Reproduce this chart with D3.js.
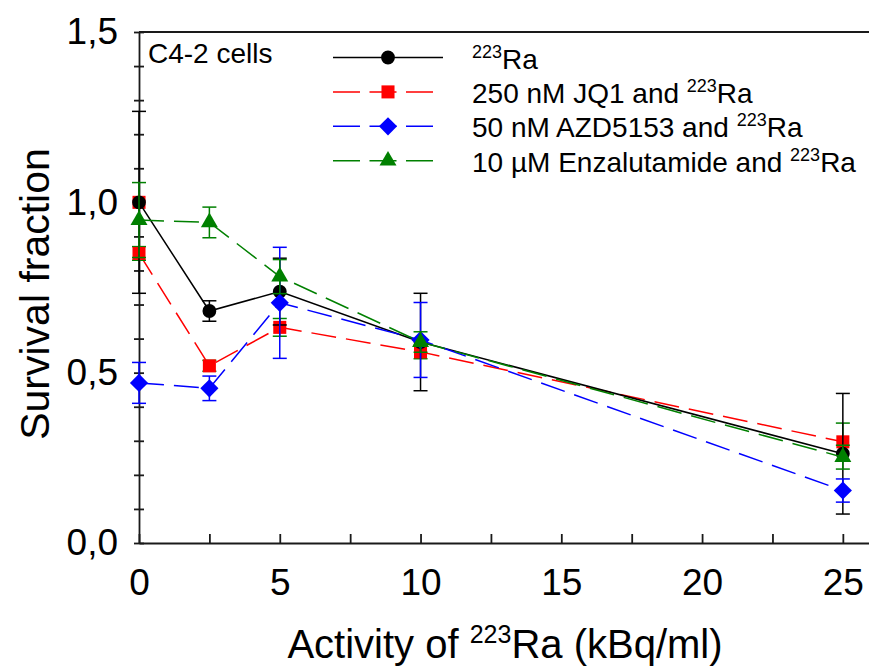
<!DOCTYPE html>
<html>
<head>
<meta charset="utf-8">
<script src="https://cdn.jsdelivr.net/npm/d3@7"></script>
<style>
  body { margin: 0; background: #fff; }
  svg { display: block; font-family: Arial, "Liberation Sans", sans-serif; }
  .axis path, .axis line { stroke: #1a1a1a; stroke-width: 1.8; }
  .axis text { font-size: 37px; fill: #000; }
</style>
</head>
<body>
<script>
var width = 869, height = 668;

// activity of 223Ra (kBq/ml)
var activity = [0, 2.5, 5, 10, 25];

// survival fraction, mean and error per series
var raOnly     = [1.0, 0.681, 0.738, 0.590, 0.262];
var raOnlyErr  = [0.267, 0.030, 0.098, 0.143, 0.177];
var jq1        = [0.85, 0.52, 0.633, 0.561, 0.297];
var jq1Err     = [0.02, 0.016, 0.026, 0.02, 0.055];
var azd        = [0.47, 0.454, 0.705, 0.596, 0.154];
var azdErr     = [0.06, 0.036, 0.163, 0.11, 0.034];
var enza       = [0.948, 0.941, 0.782, 0.59, 0.252];
var enzaErr    = [0.11, 0.045, 0.05, 0.03, 0.035];
var jq1Control = [1.0];   // red square peeking out behind the black dot at 0

var legendLabels = ["", "250 nM JQ1 and ", "50 nM AZD5153 and ", "10 \u00B5M Enzalutamide and "];
var yTicks = [0, 0.5, 1.0, 1.5];
var xTicks = [0, 5, 10, 15, 20, 25];

var series = [
  { values: jq1,    err: jq1Err,    color: "#ff0000", errColor: "#008000", dash: "25,10", symbol: d3.symbolSquare,   size: 170, rotate: 0 },
  { values: raOnly, err: raOnlyErr, color: "#000000", errColor: "#000000", dash: null,    symbol: d3.symbolCircle,   size: 150, rotate: 0 },
  { values: azd,    err: azdErr,    color: "#0000ff", errColor: "#0000ff", dash: "25,10", symbol: d3.symbolSquare,   size: 165, rotate: 45 },
  { values: enza,   err: enzaErr,   color: "#008000", errColor: "#008000", dash: "25,10", symbol: d3.symbolTriangle, size: 125, rotate: 0 }
];
// legend order differs from drawing order
var legendSeries = [series[1], series[0], series[2], series[3]];

var x = d3.scaleLinear().domain([0, 26]).range([139, 871]);
var y = d3.scaleLinear().domain([0, 1.5]).range([543, 32]);

var svg = d3.select("body").append("svg")
    .attr("width", width)
    .attr("height", height);

// frame: top line (right spine falls outside the picture)
svg.append("line")
    .attr("x1", x(0)).attr("x2", x(26))
    .attr("y1", y(1.5)).attr("y2", y(1.5))
    .attr("stroke", "#1a1a1a").attr("stroke-width", 1.8);

// y axis: small ticks crossing the spine every 0.1
var yMinor = d3.range(0, 16).map(function(i) { return i / 10; });
svg.append("g").attr("class", "axis")
    .attr("transform", "translate(" + x(0) + ",0)")
    .call(d3.axisLeft(y).tickValues(yMinor).tickSize(5).tickSizeOuter(0).tickFormat(""));
svg.append("g").attr("class", "axis")
    .attr("transform", "translate(" + x(0) + ",0)")
    .call(d3.axisLeft(y).tickValues(yMinor).tickSize(-5).tickSizeOuter(0).tickFormat(""))
    .select(".domain").remove();
svg.append("g").attr("class", "axis")
    .attr("transform", "translate(" + x(0) + ",0)")
    .call(d3.axisLeft(y).tickValues(yTicks).tickSize(0).tickPadding(21)
        .tickFormat(function(d) { return d3.format(".1f")(d).replace(".", ","); }))
    .select(".domain").remove();

// x axis: inward ticks every 2.5
svg.append("g").attr("class", "axis")
    .attr("transform", "translate(0," + y(0) + ")")
    .call(d3.axisBottom(x).tickValues(d3.range(0, 25.1, 2.5)).tickSize(-9).tickSizeOuter(0).tickFormat(""));
svg.append("g").attr("class", "axis")
    .attr("transform", "translate(0," + y(0) + ")")
    .call(d3.axisBottom(x).tickValues(xTicks).tickSize(0).tickPadding(26).tickFormat(d3.format("d")))
    .select(".domain").remove();

// axis titles
var xTitle = svg.append("text")
    .attr("x", 505).attr("y", 658)
    .attr("text-anchor", "middle")
    .style("font-size", "40px");
xTitle.append("tspan").text("Activity of ");
xTitle.append("tspan").attr("dy", -15).style("font-size", "25px").text("223");
xTitle.append("tspan").attr("dy", 15).text("Ra (kBq/ml)");

svg.append("text")
    .attr("transform", "translate(49,294) rotate(-90)")
    .attr("text-anchor", "middle")
    .style("font-size", "41px")
    .text("Survival fraction");

svg.append("text")
    .attr("x", 148).attr("y", 63)
    .style("font-size", "28px")
    .text("C4-2 cells");

// data
var line = d3.line()
    .x(function(d, i) { return x(activity[i]); })
    .y(function(d) { return y(d); });

function symbolPath(s) {
  return d3.symbol().type(s.symbol).size(s.size)();
}

// hidden control point under the black dot
svg.append("path")
    .attr("d", symbolPath(series[0]))
    .attr("transform", "translate(" + x(0) + "," + y(jq1Control[0]) + ")")
    .attr("fill", series[0].color);

series.forEach(function(s) {
  var g = svg.append("g");

  g.append("path")
      .attr("d", line(s.values))
      .attr("fill", "none")
      .attr("stroke", s.color)
      .attr("stroke-width", 1.5)
      .attr("stroke-dasharray", s.dash);

  var bars = g.selectAll(".err").data(s.values).enter().append("g");
  bars.append("line")
      .attr("x1", function(d, i) { return x(activity[i]); })
      .attr("x2", function(d, i) { return x(activity[i]); })
      .attr("y1", function(d, i) { return y(d + s.err[i]); })
      .attr("y2", function(d, i) { return y(d - s.err[i]); });
  [1, -1].forEach(function(sign) {
    bars.append("line")
        .attr("x1", function(d, i) { return x(activity[i]) - 7; })
        .attr("x2", function(d, i) { return x(activity[i]) + 7; })
        .attr("y1", function(d, i) { return y(d + sign * s.err[i]); })
        .attr("y2", function(d, i) { return y(d + sign * s.err[i]); });
  });
  bars.selectAll("line")
      .attr("stroke", s.errColor)
      .attr("stroke-width", 1.5);

  g.selectAll(".mark").data(s.values).enter().append("path")
      .attr("d", symbolPath(s))
      .attr("transform", function(d, i) {
        return "translate(" + x(activity[i]) + "," + y(d) + ") rotate(" + s.rotate + ")";
      })
      .attr("fill", s.color);
});

// legend
var legend = svg.append("g");
legendSeries.forEach(function(s, i) {
  var ly = 57.5 + i * 34.4;
  var row = legend.append("g");
  row.append("line")
      .attr("x1", 333).attr("x2", s.dash ? 434 : 443)
      .attr("y1", ly).attr("y2", ly)
      .attr("stroke", s.color)
      .attr("stroke-width", 1.5)
      .attr("stroke-dasharray", s.dash ? "27,9.5" : null);
  row.append("path")
      .attr("d", symbolPath(s))
      .attr("transform", "translate(388," + ly + ") rotate(" + s.rotate + ")")
      .attr("fill", s.color);
  var t = row.append("text")
      .attr("x", 472).attr("y", ly + 11)
      .style("font-size", "28px");
  t.append("tspan").text(legendLabels[i]);
  t.append("tspan").attr("dy", -11).style("font-size", "18px").text("223");
  t.append("tspan").attr("dy", 11).text("Ra");
});
</script>
</body>
</html>
